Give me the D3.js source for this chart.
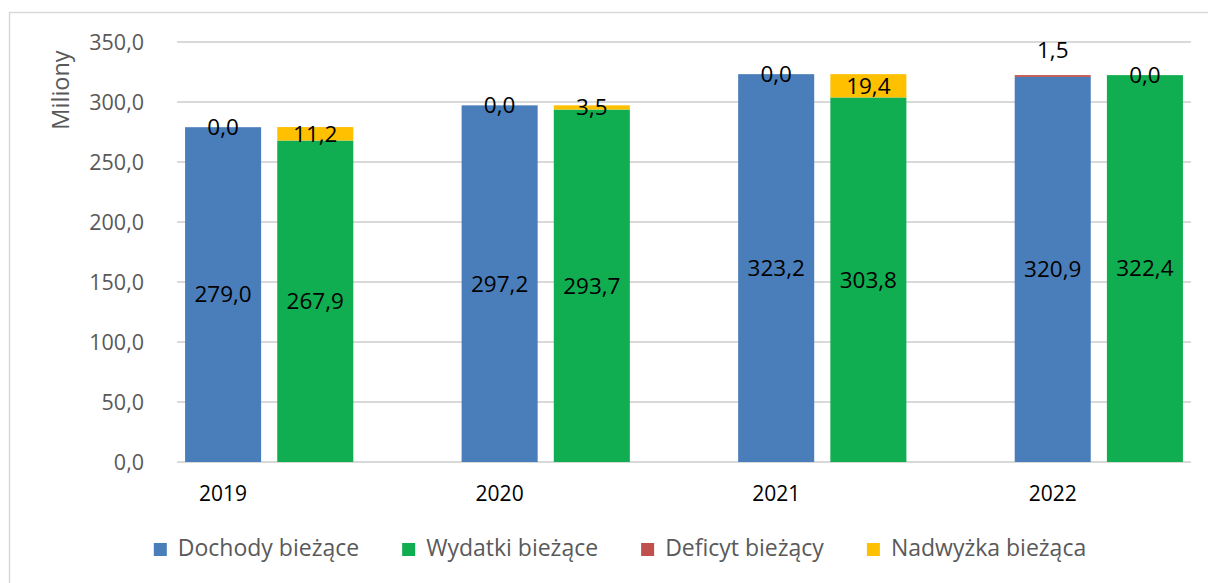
<!DOCTYPE html>
<html><head><meta charset="utf-8">
<script src="https://cdn.jsdelivr.net/npm/d3@7"></script>
<style>
html,body{margin:0;padding:0;background:#fff;}
svg{display:block;font-family:"Open Sans",sans-serif;}
</style></head>
<body>
<svg id="chart" width="1208" height="583"></svg>
<script>
const years = ["2019","2020","2021","2022"];
const dochody = [279.0, 297.2, 323.2, 320.9];
const wydatki = [267.9, 293.7, 303.8, 322.4];
const deficyt = [0.0, 0.0, 0.0, 1.5];
const nadwyzka = [11.2, 3.5, 19.4, 0.0];
const yTicks = [0, 50, 100, 150, 200, 250, 300, 350];
const seriesNames = ["Dochody bieżące","Wydatki bieżące","Deficyt bieżący","Nadwyżka bieżąca"];
const seriesColors = ["#4A7EBB","#10AE50","#C0504D","#FFC000"];
const yTitle = "Miliony";

const svg = d3.select("#chart");
const W = 1208, H = 583;
const plot = {left:177, right:1191, top:42, bottom:462};

// frame
svg.append("rect").attr("x",9.5).attr("y",12.5).attr("width",W+20).attr("height",H+20)
  .attr("fill","none").attr("stroke","#d9d9d9").attr("stroke-width",1.5);

// slots: per year bar D, bar W, gap (no trailing gap)
const slots = [];
years.forEach((y,i)=>{ slots.push(y+"|D"); slots.push(y+"|W"); if(i<years.length-1) slots.push(y+"|G"); });

const x = d3.scaleBand().domain(slots).range([plot.left, plot.right]).paddingInner(0.175).paddingOuter(0.0875);
const y = d3.scaleLinear().domain([0,350]).range([plot.bottom, plot.top]);

const fmt = v => d3.format(".1f")(v).replace(".", ",");

// gridlines
svg.append("g").selectAll("line").data(yTicks).join("line")
  .attr("x1",plot.left).attr("x2",plot.right)
  .attr("y1",d=>y(d)).attr("y2",d=>y(d))
  .attr("stroke","#d9d9d9").attr("stroke-width",2);

// y tick labels
svg.append("g").selectAll("text").data(yTicks).join("text")
  .attr("x",144).attr("y",d=>y(d)).attr("dy","0.35em")
  .attr("text-anchor","end").attr("fill","#595959").style("font-size","21.5px")
  .text(d=>fmt(d));

// y title
svg.append("text").attr("transform","translate(69,90) rotate(-90)")
  .attr("text-anchor","middle").attr("fill","#595959").style("font-size","23.5px").text(yTitle);

// stacks
const segs = [];
years.forEach((yr,i)=>{
  segs.push({slot:yr+"|D", y0:0, y1:dochody[i], v:dochody[i], s:0});
  segs.push({slot:yr+"|D", y0:dochody[i], y1:dochody[i]+deficyt[i], v:deficyt[i], s:2});
  segs.push({slot:yr+"|W", y0:0, y1:wydatki[i], v:wydatki[i], s:1});
  segs.push({slot:yr+"|W", y0:wydatki[i], y1:wydatki[i]+nadwyzka[i], v:nadwyzka[i], s:3});
});

svg.append("g").selectAll("rect").data(segs.filter(d=>d.v>0)).join("rect")
  .attr("x",d=>x(d.slot)).attr("width",x.bandwidth())
  .attr("y",d=>y(d.y1)).attr("height",d=>y(d.y0)-y(d.y1))
  .attr("fill",d=>seriesColors[d.s]);

// data labels
svg.append("g").selectAll("text").data(segs).join("text")
  .attr("x",d=>x(d.slot)+x.bandwidth()/2)
  .attr("y",d=>{
    if(d.s===2 && d.v>0) return y(d.y1) - 25;
    return y((d.y0+d.y1)/2);
  })
  .attr("dy","0.35em").attr("text-anchor","middle").attr("fill","#000")
  .style("font-size","22.5px").text(d=>fmt(d.v));

// year labels
svg.append("g").selectAll("text").data(years).join("text")
  .attr("x",d=>x(d+"|D")+x.bandwidth()/2).attr("y",501)
  .attr("text-anchor","middle").attr("fill","#000").style("font-size","21px").text(d=>d);

// legend
const lg = svg.append("g");
let cx = 0;
seriesNames.forEach((n,i)=>{
  const g = lg.append("g");
  g.append("rect").attr("x",0).attr("y",-13).attr("width",13).attr("height",13).attr("fill",seriesColors[i]);
  const t = g.append("text").attr("x",24).attr("y",0).attr("fill","#595959").style("font-size","23px").text(n);
  const w = t.node().getComputedTextLength();
  g.attr("transform",`translate(${cx},0)`);
  cx += 24 + w + 43;
});
const total = cx - 43;
lg.attr("transform",`translate(${620 - total/2},556)`);
</script>
</body></html>
